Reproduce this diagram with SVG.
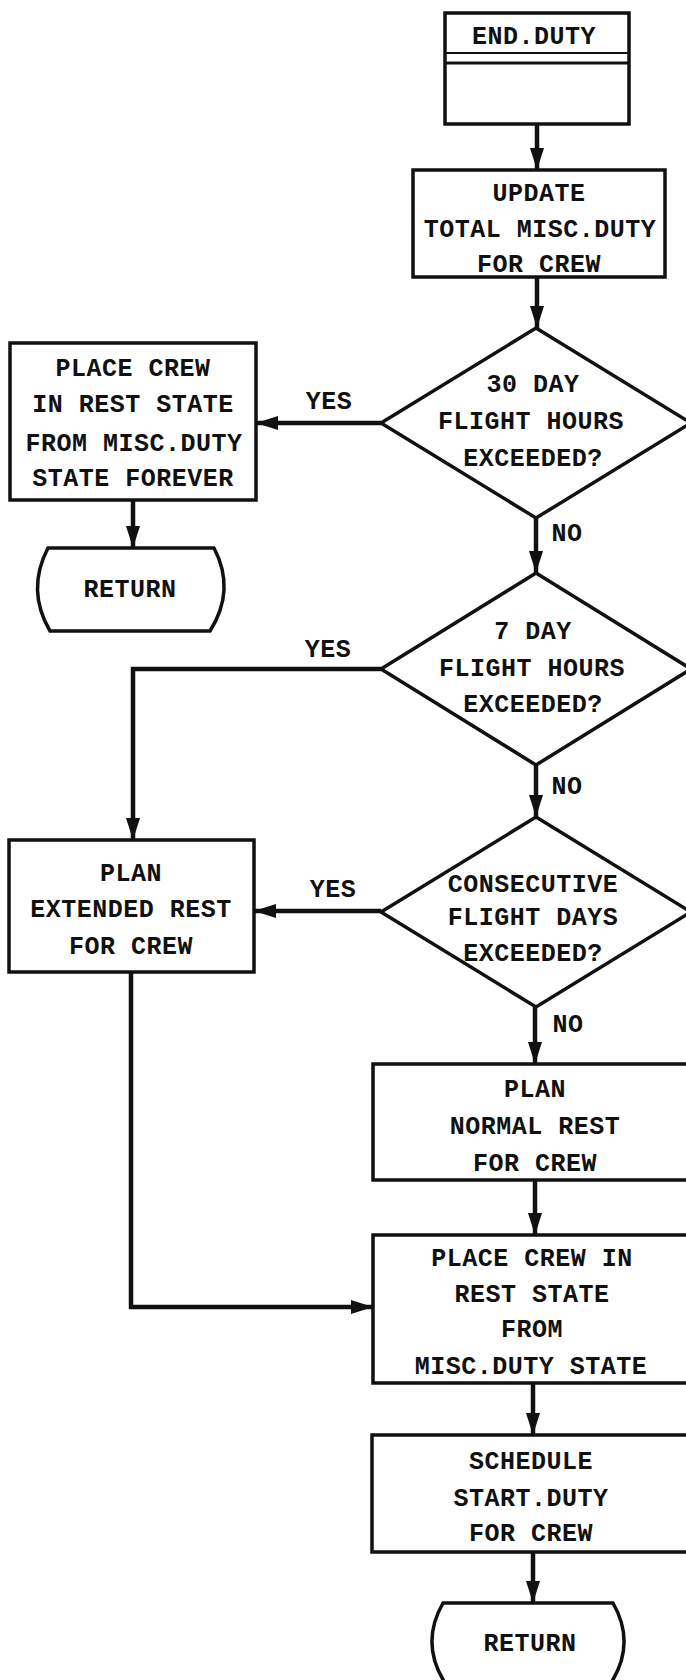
<svg xmlns="http://www.w3.org/2000/svg" width="686" height="1680" viewBox="0 0 686 1680">
<defs>
<style>
.box{fill:#fff;stroke:#111;stroke-width:3.5}
.con{fill:none;stroke:#111;stroke-width:4.5;marker-end:url(#ah)}
text{font-family:"Liberation Mono","Courier New",monospace;font-weight:bold;font-size:25px;letter-spacing:0.5px;fill:#111;text-anchor:middle}
</style>
<marker id="ah" markerUnits="userSpaceOnUse" markerWidth="24" markerHeight="16" refX="22" refY="7" orient="auto">
<path d="M0,0 L22,7 L0,14 z" fill="#111"/>
</marker>
</defs>
<rect width="686" height="1680" fill="#fff"/>

<g id="connectors">
<line class="con" x1="537" y1="124" x2="537" y2="170"/>
<line class="con" x1="537" y1="277" x2="537" y2="328"/>
<line class="con" x1="381" y1="423" x2="256" y2="423"/>
<line class="con" x1="133" y1="500" x2="133" y2="548"/>
<line class="con" x1="536" y1="518" x2="536" y2="573"/>
<polyline class="con" points="381,669 133,669 133,840"/>
<line class="con" x1="536" y1="765" x2="536" y2="817"/>
<line class="con" x1="381" y1="911" x2="254" y2="911"/>
<line class="con" x1="535" y1="1007" x2="535" y2="1064"/>
<polyline class="con" points="131,972 131,1307 373,1307"/>
<line class="con" x1="535" y1="1180" x2="535" y2="1235"/>
<line class="con" x1="533" y1="1383" x2="533" y2="1435"/>
<line class="con" x1="533" y1="1552" x2="533" y2="1603"/>
<text x="329" y="409">YES</text>
<text x="567" y="541">NO</text>
<text x="328" y="657">YES</text>
<text x="567" y="794">NO</text>
<text x="333" y="897">YES</text>
<text x="568" y="1032">NO</text>
</g>

<g id="end_duty">
<rect class="box" x="445" y="13" width="184" height="111"/>
<line x1="445" y1="53" x2="629" y2="53" stroke="#111" stroke-width="2"/>
<line x1="445" y1="63" x2="629" y2="63" stroke="#111" stroke-width="3"/>
<text x="534" y="44">END.DUTY</text>
</g>

<g id="update">
<rect class="box" x="413" y="170" width="252" height="107"/>
<text x="539" y="201">UPDATE</text>
<text x="540" y="237">TOTAL MISC.DUTY</text>
<text x="539" y="272">FOR CREW</text>
</g>

<g id="d30">
<polygon class="box" points="536,328 691,423 536,518 381,423"/>
<text x="533" y="392">30 DAY</text>
<text x="531" y="429">FLIGHT HOURS</text>
<text x="533" y="466">EXCEEDED?</text>
</g>

<g id="place_forever">
<rect class="box" x="10" y="343" width="246" height="157"/>
<text x="133" y="376">PLACE CREW</text>
<text x="133" y="412">IN REST STATE</text>
<text x="134" y="451">FROM MISC.DUTY</text>
<text x="133" y="486">STATE FOREVER</text>
</g>

<g id="return1">
<path class="box" d="M48,548 L214,548 Q236,590 210,631 L50,631 Q26,590 48,548 Z"/>
<text x="130" y="597">RETURN</text>
</g>

<g id="d7">
<polygon class="box" points="536,573 691,669 536,765 381,669"/>
<text x="533" y="639">7 DAY</text>
<text x="532" y="676">FLIGHT HOURS</text>
<text x="533" y="712">EXCEEDED?</text>
</g>

<g id="dcons">
<polygon class="box" points="536,817 691,912 536,1007 381,912"/>
<text x="533" y="892">CONSECUTIVE</text>
<text x="533" y="925">FLIGHT DAYS</text>
<text x="533" y="961">EXCEEDED?</text>
</g>

<g id="plan_extended">
<rect class="box" x="9" y="840" width="245" height="132"/>
<text x="131" y="881">PLAN</text>
<text x="131" y="917">EXTENDED REST</text>
<text x="131" y="954">FOR CREW</text>
</g>

<g id="plan_normal">
<rect class="box" x="373" y="1064" width="324" height="116"/>
<text x="535" y="1097">PLAN</text>
<text x="535" y="1134">NORMAL REST</text>
<text x="535" y="1171">FOR CREW</text>
</g>

<g id="place_rest">
<rect class="box" x="373" y="1235" width="324" height="148"/>
<text x="532" y="1266">PLACE CREW IN</text>
<text x="532" y="1302">REST STATE</text>
<text x="532" y="1337">FROM</text>
<text x="531" y="1374">MISC.DUTY STATE</text>
</g>

<g id="schedule">
<rect class="box" x="372" y="1435" width="325" height="117"/>
<text x="531" y="1469">SCHEDULE</text>
<text x="531" y="1506">START.DUTY</text>
<text x="531" y="1541">FOR CREW</text>
</g>

<g id="return2">
<path class="box" d="M443,1603 L613,1603 Q637,1645 609,1686 L447,1686 Q419,1645 443,1603 Z"/>
<text x="530" y="1651">RETURN</text>
</g>
</svg>
